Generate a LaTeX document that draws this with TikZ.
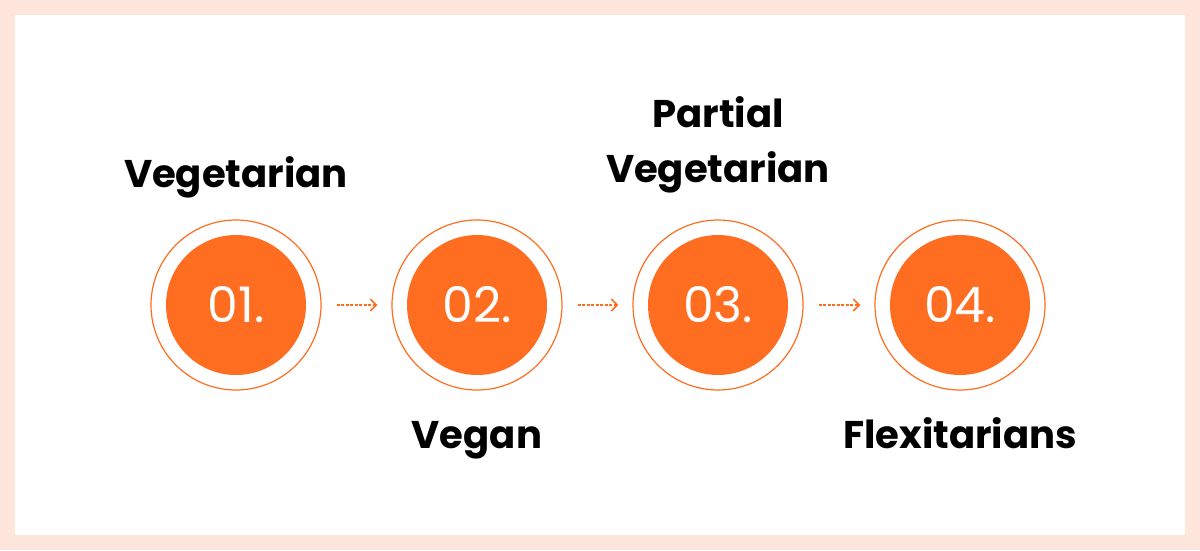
\documentclass[tikz,border=0pt]{standalone}
\usepackage{fontspec}
\setmainfont{Poppins}
\usetikzlibrary{arrows.meta}

\definecolor{peach}{RGB}{255,230,220}
\definecolor{tangerine}{RGB}{255,110,32}

\tikzset{
    ring/.style={circle, draw=tangerine, line width=1.2pt, minimum size=170pt, inner sep=0pt},
    disc/.style={circle, fill=tangerine, minimum size=140pt, inner sep=0pt,
        text=white, font=\fontsize{49}{49}\selectfont},
    diet/.style={font=\fontsize{38.6}{55}\selectfont\bfseries, align=center, anchor=base},
    hop/.style={tangerine, line width=1.6pt, dash pattern=on 3pt off 1.5pt,
        -{Straight Barb[length=6pt, width=12pt, line width=1.6pt]},
        shorten <=15pt, shorten >=14pt},
}

\begin{document}
\begin{tikzpicture}[x=1pt, y=-1pt]
    \fill [peach] (0, 0) rectangle (1200, 550);
    \fill [white] (15, 15) rectangle (1185, 535);
    \foreach \i/\x in {1/236, 2/477, 3/718, 4/960} {
        \node [ring] (r\i) at (\x, 305) {};
        \node [disc] (d\i) at (r\i) {0\i.};
    }
    \foreach \a/\b in {1/2, 2/3, 3/4} {
        \draw [hop] (r\a) -- (r\b);
    }
    \node [diet] (t1) at (236, 187) {Vegetarian};
    \node [diet] (t2) at (477, 448) {Vegan};
    \node [diet] (t3) at (718, 182) {Partial\\Vegetarian};
    \node [diet] (t4) at (960, 448) {Flexitarians};
\end{tikzpicture}
\end{document}
